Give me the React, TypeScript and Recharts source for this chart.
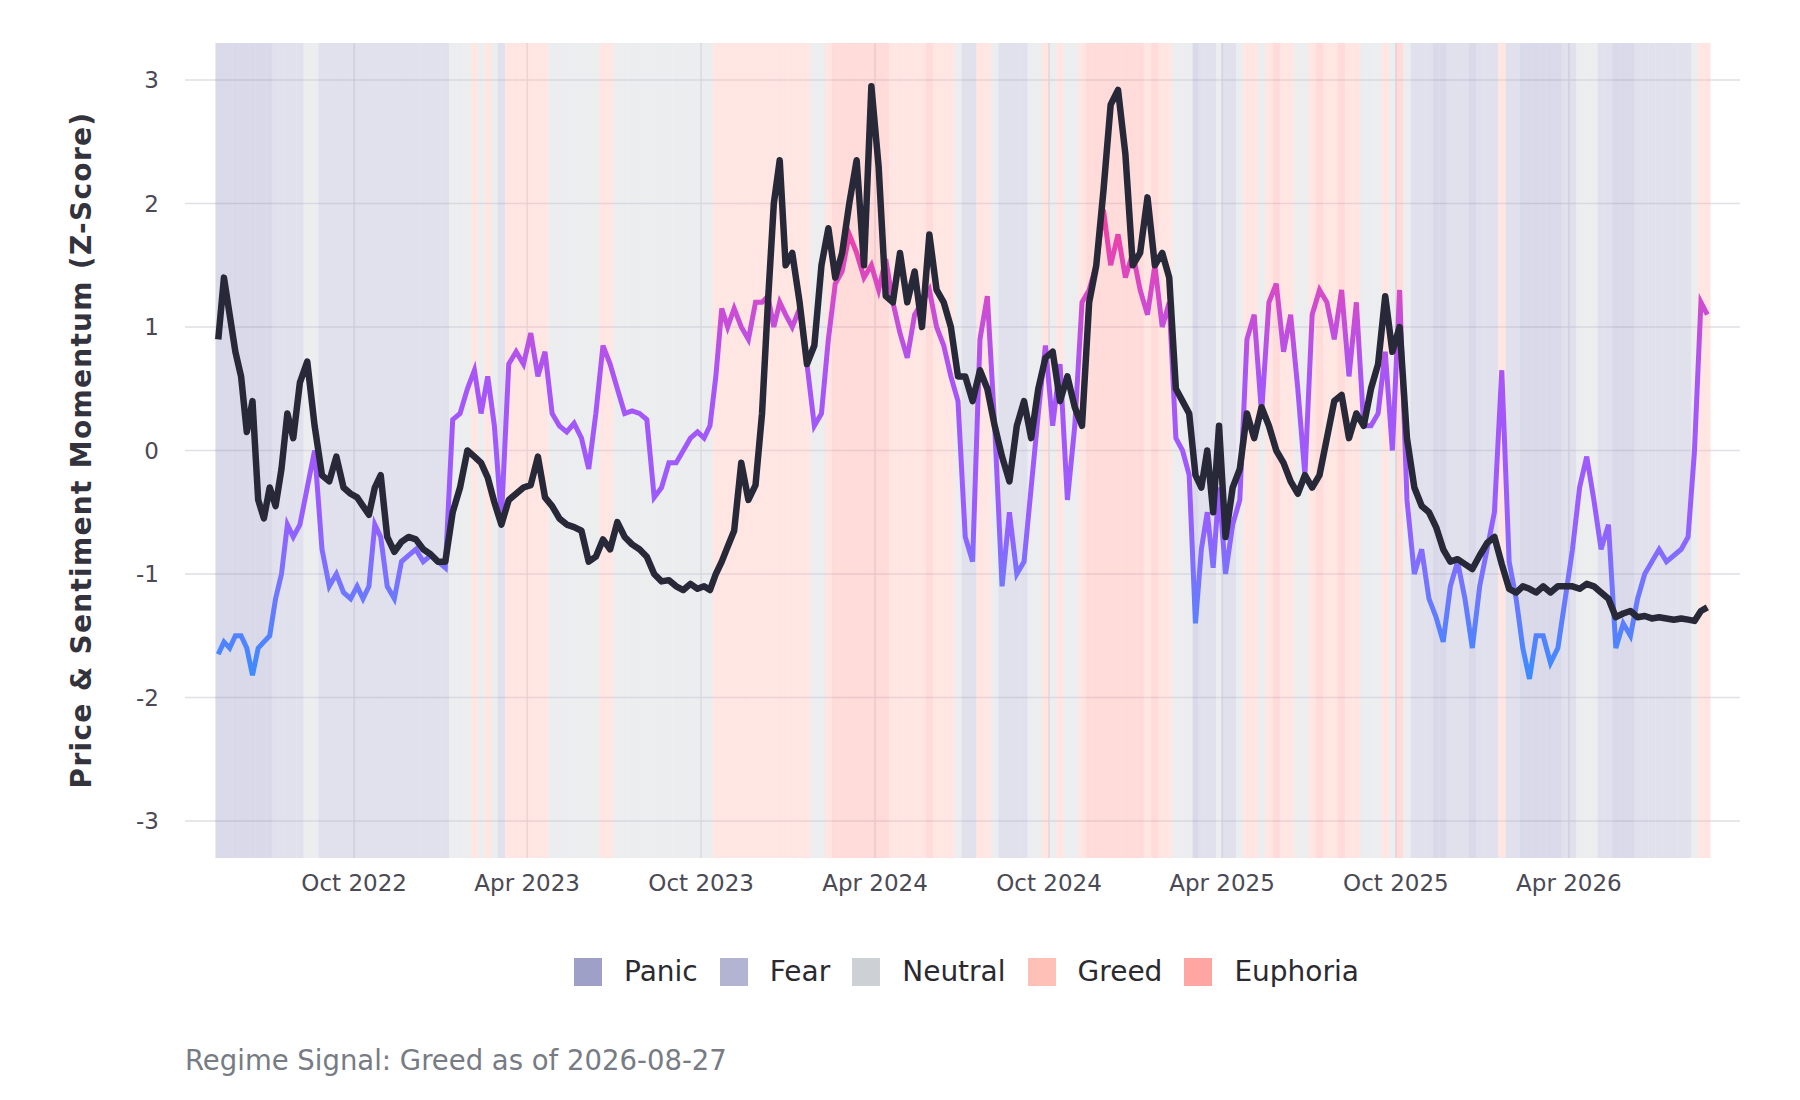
import React from "react";
import { LineChart, Line, XAxis, YAxis, CartesianGrid, ReferenceArea } from "recharts";

const months = ["2022-05","2022-06","2022-07","2022-08","2022-09","2022-10","2022-11","2022-12","2023-01","2023-02","2023-03","2023-04","2023-05","2023-06","2023-07","2023-08","2023-09","2023-10","2023-11","2023-12","2024-01","2024-02","2024-03","2024-04","2024-05","2024-06","2024-07","2024-08","2024-09","2024-10","2024-11","2024-12","2025-01","2025-02","2025-03","2025-04","2025-05","2025-06","2025-07","2025-08","2025-09","2025-10","2025-11","2025-12","2026-01","2026-02","2026-03","2026-04","2026-05","2026-06","2026-07","2026-08"];

const priceByMonth: number[][] = [
  [0.9,1.4,1.1,0.8],[0.6,0.15,0.4,-0.4,-0.55],[-0.3,-0.45,-0.15,0.3,0.1],[0.55,0.72,0.2,-0.2],[-0.25,-0.05,-0.3,-0.35],
  [-0.38,-0.45,-0.52,-0.3,-0.2],[-0.7,-0.82,-0.74,-0.7],[-0.72,-0.8,-0.84,-0.9],[-0.9,-0.5,-0.3,0.0],[-0.05,-0.1,-0.22,-0.42],
  [-0.6,-0.4,-0.35,-0.3],[-0.28,-0.05,-0.38,-0.45],[-0.55,-0.6,-0.62,-0.65],[-0.9,-0.86,-0.72,-0.8],[-0.58,-0.7,-0.76,-0.8],
  [-0.86,-1.0,-1.06,-1.05],[-1.1,-1.13,-1.08,-1.12],[-1.1,-1.13,-1.0,-0.9,-0.78],[-0.65,-0.1,-0.4,-0.28],[0.3,1.2,2.0,2.35,1.5],
  [1.6,1.2,0.7,0.85],[1.5,1.8,1.4,1.6],[2.0,2.35,1.5,2.95],[2.3,1.25,1.2,1.6],[1.2,1.45,1.0,1.75],
  [1.3,1.2,1.0,0.6],[0.6,0.4,0.65,0.5],[0.2,-0.05,-0.25,0.2],[0.4,0.1,0.5,0.75],[0.8,0.4,0.6,0.35],
  [0.2,1.2,1.5,2.1],[2.8,2.92,2.4,1.5],[1.6,2.05,1.5,1.6],[1.4,0.5,0.4,0.3],[-0.2,-0.3,0.0,-0.5,0.2],
  [-0.7,-0.3,-0.15,0.3],[0.1,0.35,0.2,0.0],[-0.1,-0.25,-0.35,-0.2],[-0.3,-0.2,0.1,0.4],[0.45,0.1,0.3,0.2],
  [0.5,0.7,1.25,0.8],[1.0,0.1,-0.3,-0.45],[-0.5,-0.62,-0.8,-0.9],[-0.88,-0.92,-0.96,-0.85],[-0.75,-0.7,-0.92,-1.12],
  [-1.15,-1.1,-1.12,-1.15],[-1.1,-1.15,-1.1,-1.1],[-1.1,-1.12,-1.08,-1.1],[-1.15,-1.2,-1.35,-1.32],[-1.3,-1.35,-1.34,-1.36],
  [-1.35,-1.36,-1.37,-1.36],[-1.37,-1.38,-1.3,-1.27]
];

const sentimentByMonth: number[][] = [
  [-1.65,-1.55,-1.6,-1.5],[-1.5,-1.6,-1.82,-1.6,-1.55],[-1.5,-1.2,-1.0,-0.6,-0.7],[-0.6,-0.3,0.0,-0.8],[-1.1,-1.0,-1.15,-1.2],
  [-1.1,-1.2,-1.1,-0.6,-0.7],[-1.1,-1.2,-0.9,-0.85],[-0.8,-0.9,-0.85,-0.9],[-0.95,0.25,0.3,0.5],[0.65,0.3,0.6,0.2],
  [-0.55,0.7,0.8,0.7],[0.95,0.6,0.8,0.3],[0.2,0.15,0.22,0.1],[-0.15,0.3,0.85,0.7],[0.5,0.3,0.32,0.3],
  [0.25,-0.38,-0.3,-0.1],[-0.1,0.0,0.1,0.15],[0.1,0.2,0.6,1.15,1.0],[1.15,1.0,0.9,1.2],[1.2,1.25,1.0,1.2,1.1],
  [1.0,1.15,0.7,0.2],[0.3,0.9,1.35,1.45],[1.75,1.6,1.4,1.5],[1.3,1.55,1.2,0.95],[0.75,1.1,1.2,1.3],
  [1.0,0.85,0.6,0.4],[-0.7,-0.9,0.9,1.25],[0.2,-1.1,-0.5,-1.0],[-0.9,-0.3,0.3,0.85],[0.2,0.7,-0.4,0.2],
  [1.2,1.3,1.5,1.95],[1.5,1.75,1.4,1.6],[1.3,1.1,1.5,1.0],[1.2,0.1,0.0,-0.2],[-1.4,-0.8,-0.5,-0.95,-0.3],
  [-1.0,-0.6,-0.4,0.9],[1.1,0.3,1.2,1.35],[0.8,1.1,0.5,-0.2],[1.1,1.3,1.2,0.9],[1.3,0.6,1.2,0.2],
  [0.2,0.3,0.8,0.0],[1.3,-0.4,-1.0,-0.8],[-1.2,-1.35,-1.55,-1.1],[-0.9,-1.2,-1.6,-1.1],[-0.8,-0.5,0.65,-0.9],
  [-1.2,-1.6,-1.85,-1.5],[-1.5,-1.72,-1.6,-1.2],[-0.8,-0.3,-0.05,-0.4],[-0.8,-0.6,-1.6,-1.4],[-1.5,-1.2,-1.0,-0.9],
  [-0.8,-0.9,-0.85,-0.8],[-0.7,0.0,1.2,1.1]
];

const yTicks = [-3, -2, -1, 0, 1, 2, 3];
const xTickLabels = ["2022-10-01","2023-04-01","2023-10-01","2024-04-01","2024-10-01","2025-04-01","2025-10-01","2026-04-01"];
const regimeNames = ["Panic", "Fear", "Neutral", "Greed", "Euphoria"];
const regimeColors = ["#9fa0c8", "#b3b3d2", "#cdd1d6", "#ffc0b8", "#ffa6a3"];

const dataStart = Date.UTC(2022, 4, 8);
const dataEnd = Date.UTC(2026, 7, 28);
const domain = [Date.UTC(2022, 3, 6), Date.UTC(2026, 8, 28)];
const MON = ["Jan","Feb","Mar","Apr","May","Jun","Jul","Aug","Sep","Oct","Nov","Dec"];

const regimeOf = (s: number) => (s < -1.3 ? 0 : s < -0.4 ? 1 : s < 0.6 ? 2 : s < 1.3 ? 3 : 4);

const data: { t: number; price: number; sentiment: number; half: number }[] = [];
months.forEach((m, mi) => {
  const [y, mo] = m.split("-").map(Number);
  const s = Math.max(Date.UTC(y, mo - 1, 1), dataStart);
  const e = Math.min(Date.UTC(y, mo, 1), dataEnd);
  const n = priceByMonth[mi].length;
  const step = (e - s) / n;
  for (let i = 0; i < n; i++) {
    data.push({ t: s + step * (i + 0.5), price: priceByMonth[mi][i], sentiment: sentimentByMonth[mi][i], half: step / 2 });
  }
});
const xTicks = xTickLabels.map((d) => Date.parse(d + "T00:00:00Z"));

const TOP = 43, BOTTOM = 858, LEFT = 185, RIGHT = 1740;
const yPix = (v: number) => TOP + ((3.3 - v) / 6.6) * (BOTTOM - TOP);
const xPix = (t: number) => LEFT + ((t - domain[0]) / (domain[1] - domain[0])) * (RIGHT - LEFT);
const gradStops: [number, string][] = [[2.2, "#ff3a8c"], [1.3, "#d64ac8"], [0.6, "#a855f7"], [-0.5, "#9a5cff"], [-1.0, "#7b72ff"], [-1.8, "#3d8bff"]];

const font = "'DejaVu Sans', sans-serif";

export default function App() {
  return (
    <div style={{ position: "absolute", left: 0, top: 0, width: 1800, height: 1100, background: "#fff", fontFamily: font }}>
      <LineChart width={1800} height={1100} data={data} margin={{ top: TOP, right: 1800 - RIGHT, bottom: 1100 - BOTTOM - 60, left: 100 }}>
        <defs>
          <linearGradient id="sentGrad" gradientUnits="userSpaceOnUse" x1="0" x2="0" y1={yPix(2.2)} y2={yPix(-1.8)}>
            {gradStops.map(([v, c]) => (
              <stop key={v} offset={(2.2 - v) / 4} stopColor={c} />
            ))}
          </linearGradient>
        </defs>
        {data.map((d, i) => (
          <ReferenceArea key={i} x1={d.t - d.half} x2={d.t + d.half} fill={regimeColors[regimeOf(d.sentiment)]} fillOpacity={0.4} stroke="none" ifOverflow="visible" />
        ))}
        <CartesianGrid stroke="#d8d8de" strokeOpacity={0.8} strokeWidth={1.5}
          horizontalPoints={yTicks.map(yPix)} verticalPoints={xTicks.map(xPix)} />
        <XAxis dataKey="t" type="number" scale="time" domain={domain} ticks={xTicks} axisLine={false} tickLine={false} height={60}
          tickFormatter={(v: number) => { const d = new Date(v); return MON[d.getUTCMonth()] + " " + d.getUTCFullYear(); }}
          tick={{ fontSize: 23, fill: "#4a4a55", fontFamily: font }} tickMargin={11} />
        <YAxis type="number" domain={[-3.3, 3.3]} ticks={yTicks} axisLine={false} tickLine={false} width={85}
          tick={{ fontSize: 23, fill: "#4a4a55", fontFamily: font }} tickMargin={20} />
        <Line dataKey="sentiment" type="linear" stroke="url(#sentGrad)" strokeWidth={5} dot={false} isAnimationActive={false} />
        <Line dataKey="price" type="linear" stroke="#272838" strokeWidth={6.5} dot={false} isAnimationActive={false} strokeLinejoin="round" />
      </LineChart>
      <div style={{ position: "absolute", left: 81, top: 450, transform: "translate(-50%,-50%) rotate(-90deg)", whiteSpace: "nowrap", fontSize: 28, fontWeight: "bold", color: "#33333d", letterSpacing: 1.3 }}>
        Price &amp; Sentiment Momentum (Z-Score)
      </div>
      <div style={{ position: "absolute", left: 574, top: 955, display: "flex", alignItems: "center", fontSize: 28, color: "#2a2a30" }}>
        {regimeNames.map((n, i) => (
          <div key={n} style={{ display: "flex", alignItems: "center", marginRight: 22 }}>
            <div style={{ width: 28, height: 28, background: regimeColors[i], marginRight: 22 }} />
            <span>{n}</span>
          </div>
        ))}
      </div>
      <div style={{ position: "absolute", left: 185, top: 1044, fontSize: 27.5, color: "#777b84" }}>
        Regime Signal: Greed as of 2026-08-27
      </div>
    </div>
  );
}
